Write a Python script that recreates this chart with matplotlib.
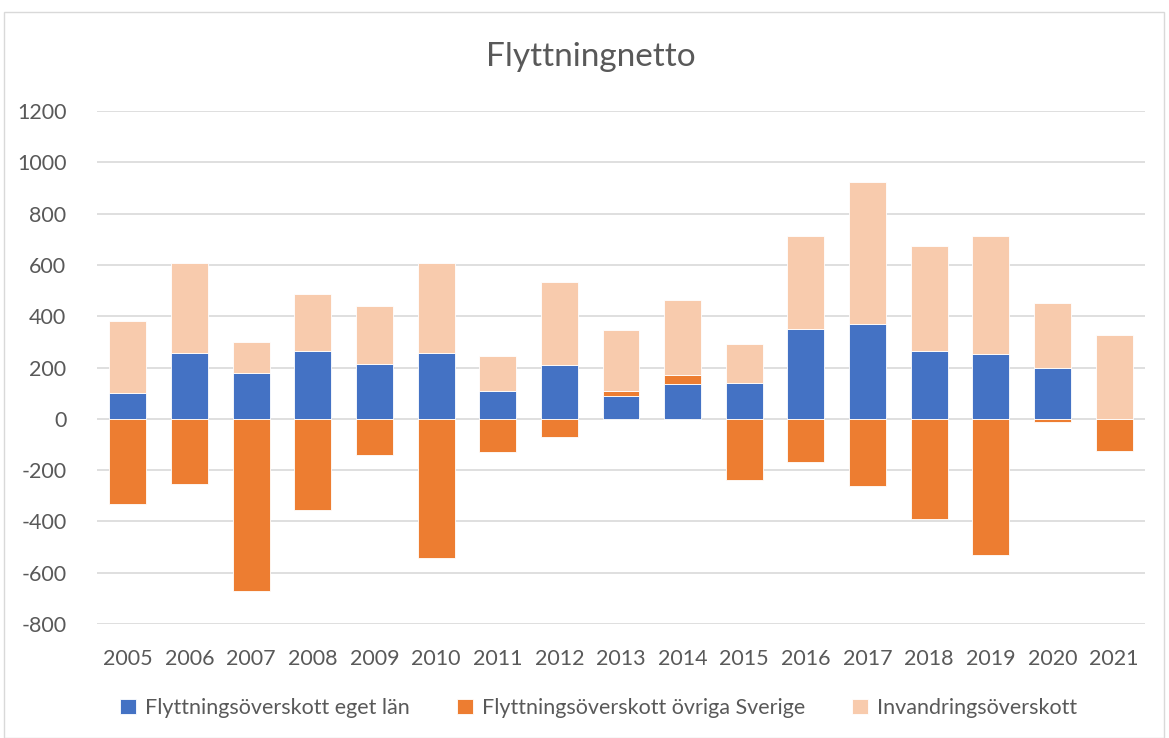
import numpy as np
import matplotlib
matplotlib.use("Agg")
import matplotlib.pyplot as plt
from matplotlib.patches import Rectangle

years = [str(y) for y in range(2005, 2022)]
eget_lan = [100, 256, 179, 264, 213, 256, 107, 209, 90, 136, 138, 351, 368, 265, 254, 198, 0]
ovriga_sverige = [-334, -255, -671, -356, -140, -542, -130, -70, 20, 34, -240, -170, -263, -391, -530, -14, -126]
invandring = [282, 351, 119, 221, 226, 350, 137, 325, 238, 294, 152, 363, 554, 410, 457, 252, 325]
series = [
    ("Flyttningsöverskott eget län", eget_lan, "#4472C4"),
    ("Flyttningsöverskott övriga Sverige", ovriga_sverige, "#ED7D31"),
    ("Invandringsöverskott", invandring, "#F8CBAD"),
]

plt.rcParams['font.family'] = ['Lato', 'DejaVu Sans']
plt.rcParams['axes.unicode_minus'] = False
txt = "#595959"

fig = plt.figure(figsize=(11.69, 7.38), dpi=100)
fig.patches.append(Rectangle((4/1169, 0), 1160/1169, 1 - 12/738, transform=fig.transFigure,
                             fill=False, edgecolor="#d9d9d9", lw=1))
ax = fig.add_axes([97/1169, 1 - 624/738, 1048/1169, (624 - 111)/738])

x = np.arange(len(years))
pos_base = np.zeros(len(years))
neg_base = np.zeros(len(years))
for label, vals, color in series:
    v = np.array(vals, dtype=float)
    bottoms = np.where(v >= 0, pos_base, neg_base)
    ax.bar(x, v, 0.6, bottom=bottoms, color=color, edgecolor="white", linewidth=0.6,
           label=label, zorder=3)
    pos_base += np.where(v >= 0, v, 0)
    neg_base += np.where(v < 0, v, 0)

ax.set_xlim(-0.5, len(years) - 0.5)
ax.set_ylim(-800, 1200)
ax.set_yticks(range(-800, 1201, 200))
ax.set_xticks(x)
ax.set_xticklabels(years)
ax.yaxis.grid(True, color="#d9d9d9", lw=1.2, zorder=0)
ax.set_axisbelow(True)
for s in ax.spines.values():
    s.set_visible(False)
ax.tick_params(axis="both", length=0, colors=txt, labelsize=15.5)
ax.tick_params(axis="y", pad=22)
ax.tick_params(axis="x", pad=18)

fig.text(0.505, 1 - 57/738, "Flyttningnetto", ha="center", va="center", fontsize=24, color=txt)

leg = fig.legend(loc="center", bbox_to_anchor=(0.512, 1 - 708/738), ncol=3, frameon=False,
                 fontsize=15.5, handlelength=0.75, handleheight=0.75, handletextpad=0.4,
                 columnspacing=2.2, labelcolor=txt)

fig.savefig("out.png", dpi=100, facecolor="white")
